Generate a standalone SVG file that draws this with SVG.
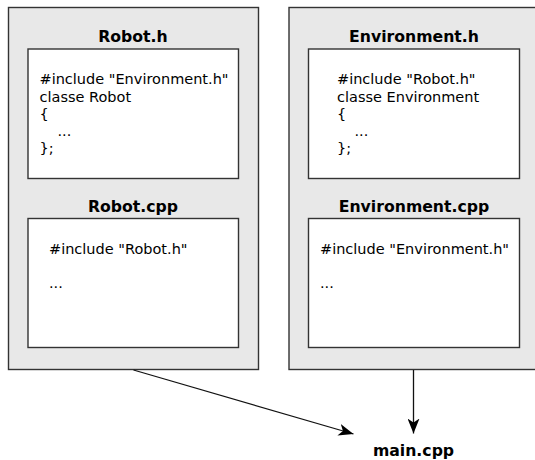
<svg xmlns="http://www.w3.org/2000/svg" width="535" height="460" viewBox="0 0 535 460">
<defs>
<style>
.outer{fill:#e8e8e8;stroke:#333;stroke-width:1.4}
.inner{fill:#fff;stroke:#333;stroke-width:1.4}
.title{font-family:"DejaVu Sans",sans-serif;font-weight:bold;font-size:15.7px;text-anchor:middle;fill:#000}
.code{font-family:"DejaVu Sans",sans-serif;font-size:14.5px;fill:#000}
.conn{stroke:#111;stroke-width:1.3;fill:none}
</style>
<marker id="arr" viewBox="0 0 15 12" refX="15" refY="6" markerWidth="15" markerHeight="12" markerUnits="userSpaceOnUse" orient="auto">
<path d="M0,0 L15,6 L0,12 L4,6 Z" fill="#000"/>
</marker>
</defs>
<g id="robot">
<rect class="outer" x="8.5" y="7.5" width="250" height="362"/>
<text class="title" x="133" y="42">Robot.h</text>
<rect class="inner" x="28" y="49" width="210.5" height="129.5"/>
<text class="code" x="39.5" y="84">#include "Environment.h"</text>
<text class="code" x="39.5" y="101.5">classe Robot</text>
<text class="code" x="39.5" y="119">{</text>
<text class="code" x="57.5" y="136">...</text>
<text class="code" x="39.5" y="153">};</text>
<text class="title" x="133" y="212">Robot.cpp</text>
<rect class="inner" x="28" y="218.5" width="210.5" height="129"/>
<text class="code" x="49" y="254">#include "Robot.h"</text>
<text class="code" x="49" y="288">...</text>
</g>
<g id="environment">
<rect class="outer" x="289" y="7.5" width="260" height="362"/>
<text class="title" x="414" y="42">Environment.h</text>
<rect class="inner" x="308.5" y="49" width="211" height="129.5"/>
<text class="code" x="337" y="84">#include "Robot.h"</text>
<text class="code" x="337" y="101.5">classe Environment</text>
<text class="code" x="337" y="119">{</text>
<text class="code" x="354.5" y="136">...</text>
<text class="code" x="337" y="153">};</text>
<text class="title" x="414" y="212">Environment.cpp</text>
<rect class="inner" x="308.5" y="218.5" width="211" height="129"/>
<text class="code" x="320" y="254">#include "Environment.h"</text>
<text class="code" x="320" y="288">...</text>
</g>
<g id="main">
<text class="title" x="413.5" y="456">main.cpp</text>
</g>
<g id="connectors">
<line class="conn" x1="133.5" y1="370" x2="353.5" y2="434" marker-end="url(#arr)"/>
<line class="conn" x1="413.5" y1="370" x2="413.5" y2="433.5" marker-end="url(#arr)"/>
</g>
</svg>
